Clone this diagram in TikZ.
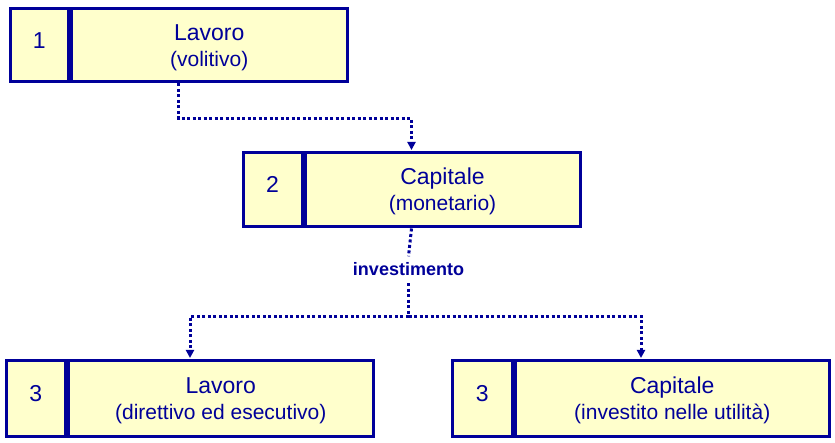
\documentclass[tikz,border=0pt]{standalone}
\usepackage{fontspec}
\setmainfont{Liberation Sans}
\usetikzlibrary{arrows.meta,calc}
\definecolor{navy}{RGB}{0,0,153}
\definecolor{paleyellow}{RGB}{255,255,204}
\newcommand\mytopstrut{\rule{0pt}{20pt}}
\begin{document}
\begin{tikzpicture}[x=1pt,y=-1pt,
  cell/.style={draw=navy, fill=paleyellow, line width=3pt, anchor=north west, inner sep=0pt, text=navy},
  numcell/.style={cell, font=\fontsize{23}{27}\selectfont, text height=16.5pt, text depth=10.5pt},
  txtcell/.style={cell, align=center, font=\fontsize{23}{26}\selectfont},
  conn/.style={draw=navy, line width=3pt, dash pattern=on 3pt off 2.5pt},
  tip/.style={-{Triangle[length=8pt,width=8pt]}, shorten >=1.5pt},
  lab/.style={text=navy, font=\bfseries\fontsize{18}{20}\selectfont, inner xsep=2pt, inner ysep=7pt, text height=12.5pt, text depth=0pt, anchor=base}
]
\useasboundingbox (0,0) rectangle (835,443);

\node[numcell, minimum width=58.5pt, minimum height=73pt] (n1) at (8.5,7.5) {1};
\node[txtcell, minimum width=275.5pt, minimum height=73pt] (t1) at (n1.north east) {\mytopstrut Lavoro\\{\fontsize{21}{26}\selectfont (volitivo)}};

\node[numcell, minimum width=59pt, minimum height=74pt] (n2) at (241.5,151.5) {2};
\node[txtcell, minimum width=275pt, minimum height=74pt] (t2) at (n2.north east) {\mytopstrut Capitale\\{\fontsize{21}{26}\selectfont (monetario)}};

\node[numcell, minimum width=58.5pt, minimum height=75pt] (n3) at (5,359.5) {3};
\node[txtcell, minimum width=305.5pt, minimum height=75pt] (t3) at (n3.north east) {\mytopstrut Lavoro\\{\fontsize{21}{26}\selectfont (direttivo ed esecutivo)}};

\node[numcell, minimum width=59.5pt, minimum height=75pt] (n4) at (451,359.5) {3};
\node[txtcell, minimum width=314.5pt, minimum height=75pt] (t4) at (n4.north east) {\mytopstrut Capitale\\{\fontsize{21}{26}\selectfont (investito nelle utilità)}};

\node[lab] (inv) at (408.5,276) {investimento};
\coordinate (j) at (408.5,316.5);

\draw[conn,tip] ($(n1.south west)!.5!(t1.south east)$) -- ++(0,35.5) -| ($(n2.north west)!.5!(t2.north east)$);
\draw[conn] ($(n2.south west)!.5!(t2.south east)$) -- (inv.north);
\draw[conn] (inv.south) -- (j);
\draw[conn,tip] (j) -| ($(n3.north west)!.5!(t3.north east)$);
\draw[conn,tip] (j) -| ($(n4.north west)!.5!(t4.north east)$);
\end{tikzpicture}
\end{document}
